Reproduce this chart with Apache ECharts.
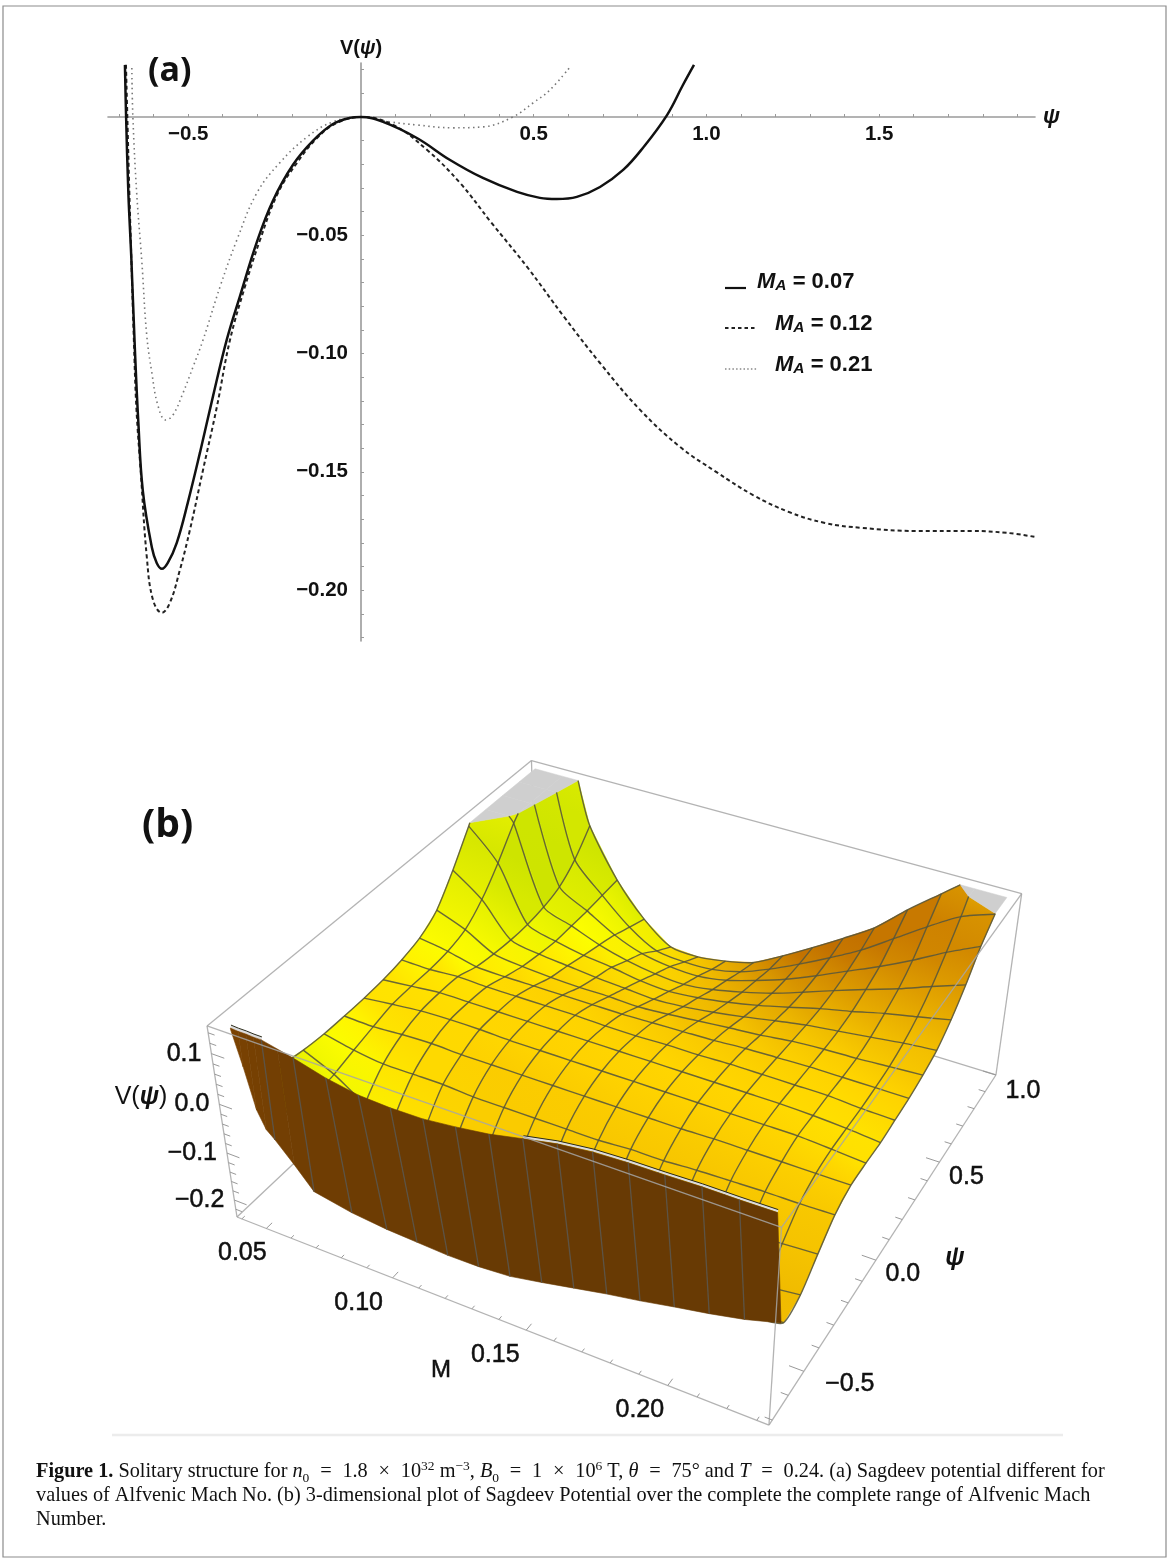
<!DOCTYPE html>
<html>
<head>
<meta charset="utf-8">
<style>html,body{margin:0;padding:0;background:#fff}#c{width:1171px;height:1561px}</style>
<script src="https://cdn.jsdelivr.net/npm/echarts@6/dist/echarts.min.js"></script>
</head>
<body>
<div id="c"></div>
<script>
// ---------- panel (a): curve readings [psi, V] ----------
const curve007 = [[-.683,.022],[-.6796,0],[-.6731,-.032],[-.6644,-.060],[-.6545,-.097],[-.6442,-.129],[-.6312,-.158],[-.605,-.182],[-.591,-.1885],[-.576,-.191],[-.559,-.1885],[-.533,-.180],[-.501,-.163],[-.466,-.142],[-.428,-.118],[-.388,-.094],[-.350,-.0757],[-.301,-.0528],[-.255,-.0355],[-.197,-.0203],[-.139,-.0101],[-.081,-.003],[-.032,-.0004],[0,0],[.064,-.0021],[.162,-.0089],[.258,-.0182],[.353,-.0258],[.452,-.0317],[.518,-.0342],[.567,-.0347],[.625,-.0338],[.692,-.0296],[.759,-.0224],[.816,-.0131],[.886,.0008],[.932,.0135],[.964,.022]];
const curve012 = [[-.680,.022],[-.676,0],[-.6702,-.032],[-.6644,-.060],[-.6572,-.094],[-.65,-.1226],[-.637,-.1505],[-.6197,-.186],[-.602,-.204],[-.576,-.2096],[-.553,-.2054],[-.524,-.1915],[-.495,-.1746],[-.457,-.1492],[-.417,-.1226],[-.379,-.0943],[-.336,-.0719],[-.292,-.052],[-.240,-.0321],[-.185,-.0194],[-.127,-.0089],[-.069,-.0025],[0,0],[.093,-.0034],[.191,-.0139],[.287,-.0279],[.376,-.0444],[.481,-.0634],[.588,-.0845],[.692,-.104],[.808,-.1238],[.924,-.1395],[1.028,-.150],[1.135,-.1598],[1.239,-.167],[1.343,-.1716],[1.450,-.1737],[1.607,-.175],[1.766,-.175],[1.870,-.1758],[1.951,-.1775]];
const curve021 = [[-.663,.0207],[-.660,0],[-.649,-.0321],[-.634,-.0613],[-.620,-.0921],[-.605,-.1082],[-.588,-.1217],[-.565,-.1281],[-.544,-.126],[-.515,-.1167],[-.486,-.1057],[-.457,-.0943],[-.408,-.0719],[-.359,-.052],[-.301,-.0321],[-.235,-.0194],[-.156,-.0085],[-.081,-.0021],[0,0],[.084,-.0021],[.162,-.0034],[.266,-.0046],[.353,-.0042],[.440,0],[.498,.0059],[.547,.0114],[.605,.0211]];
const xTickValues = [-.7,-.6,-.5,-.4,-.3,-.2,-.1,.1,.2,.3,.4,.5,.6,.7,.8,.9,1,1.1,1.2,1.3,1.4,1.5,1.6,1.7,1.8,1.9];
const xLabelValues = [-.5,.5,1,1.5];
const yTickValues = [.02,.01,-.01,-.02,-.03,-.04,-.05,-.06,-.07,-.08,-.09,-.1,-.11,-.12,-.13,-.14,-.15,-.16,-.17,-.18,-.19,-.2,-.21,-.22];
const yLabelValues = [-.05,-.1,-.15,-.2];
const legendLabels = ['0.07','0.12','0.21'];

// ---------- panel (b): surface readings V(M, psi) ----------
const meshM = [.0419,.0537,.0654,.0772,.089,.1007,.1125,.1242,.136,.1478,.1595,.1713,.183,.1948,.2066,.2183,.2301];
const meshPsi = [-.6856,-.5824,-.4792,-.376,-.2728,-.1696,-.0664,.0368,.14,.2432,.3464,.4496,.5528,.656,.7592,.8624,.9656];
const V_M00 = [.14,.036,-.003,-.013,-.017,-.017,-.016,-.013,-.006,.006,.032,.084,.145,.212,.27,.348,.426];
const V_M01 = [-.02,-.061,-.05,-.042,-.03,-.019,-.009,-.007,-.007,-.003,.009,.04,.085,.138,.18,.23,.28];
const V_M02 = [-.10,-.159,-.14,-.081,-.038,-.015,-.003,-.001,-.003,-.017,-.024,-.028,-.028,-.023,-.011,.017,.06];
const V_M03 = [-.13,-.179,-.151,-.085,-.038,-.013,-.001,-.001,-.005,-.019,-.032,-.04,-.046,-.046,-.046,-.044,-.042];
const V_M04 = [-.15,-.182,-.155,-.089,-.038,-.015,-.001,-.001,-.005,-.019,-.036,-.046,-.058,-.069,-.081,-.097,-.112];
const V_M05 = [-.153,-.186,-.159,-.093,-.042,-.015,-.003,-.001,-.005,-.019,-.038,-.052,-.065,-.085,-.104,-.132,-.157];
const V_M06 = [-.156,-.186,-.159,-.093,-.042,-.015,-.003,-.001,-.005,-.019,-.038,-.056,-.075,-.095,-.114,-.138,-.161];
const V_M07 = [-.156,-.182,-.159,-.093,-.042,-.015,-.003,-.001,-.007,-.019,-.04,-.06,-.079,-.099,-.116,-.136,-.152];
const V_M08 = [-.152,-.179,-.155,-.093,-.042,-.015,-.003,-.001,-.007,-.017,-.036,-.056,-.073,-.091,-.106,-.122,-.136];
const V_M09 = [-.142,-.171,-.151,-.089,-.042,-.015,-.003,-.001,-.005,-.015,-.03,-.048,-.063,-.077,-.087,-.097,-.102];
const V_M10 = [-.128,-.159,-.143,-.085,-.038,-.015,-.003,-.001,-.005,-.013,-.024,-.038,-.05,-.06,-.065,-.067,-.065];
const V_M11 = [-.115,-.151,-.136,-.081,-.038,-.015,-.003,-.001,-.003,-.009,-.019,-.026,-.034,-.038,-.038,-.034,-.026];
const V_M12 = [-.103,-.14,-.128,-.077,-.034,-.013,-.003,-.001,-.003,-.007,-.011,-.015,-.017,-.015,-.009,.001,.015];
const V_M13 = [-.09,-.128,-.12,-.073,-.032,-.013,-.003,-.001,-.003,-.005,-.007,-.007,-.003,.007,.02,.044,.071];
const V_M14 = [-.078,-.12,-.112,-.069,-.03,-.013,-.003,-.003,-.003,-.005,-.005,.001,.013,.028,.052,.087,.122];
const V_M15 = [-.05,-.108,-.104,-.065,-.03,-.013,-.007,-.007,-.007,-.005,-.001,.009,.026,.052,.087,.126,.173];
const V_M16 = [-.05,-.103,-.096,-.061,-.028,-.013,-.012,-.013,-.009,-.005,.003,.015,.04,.075,.118,.149,.231];
const surfaceV = [V_M00,V_M01,V_M02,V_M03,V_M04,V_M05,V_M06,V_M07,V_M08,V_M09,V_M10,V_M11,V_M12,V_M13,V_M14,V_M15,V_M16];
const wallM = [.0419,.0448,.0478,.0507,.0537,.0596,.0654,.0772,.089,.1007,.1125,.1242,.136,.1478,.1595,.1713,.183,.1948,.2066,.2183,.2301];
const wallTopV = [.137,.136,.136,.135,.135,.128,.121,.104,.093,.090,.091,.098,.107,.121,.134,.142,.145,.146,.148,.148,.149];
const wallBottomV = [.134,.067,-.0135,-.048,-.063,-.107,-.156,-.19,-.21,-.213,-.216,-.215,-.21,-.197,-.183,-.169,-.157,-.143,-.13,-.115,-.095];
const wallBottomPsi = [-.668,-.668,-.668,-.668,-.668,-.66,-.65,-.62,-.6,-.6,-.6,-.6,-.6,-.6,-.6,-.6,-.6,-.6,-.6,-.6,-.6];
const mTickLabels = [.05,.10,.15,.20];
const psiTickLabels = [-.5,0,.5,1];
const vTickLabels = [.1,0,-.1,-.2];

// ---------- 3D view of panel (b) ----------
const boxM = [.038,.234], boxPsi = [-.72,1.0], boxV = [-.237,.153];
const clipV = .150, wallPsi = -.668;
const cam = {a:-.1062,b:.2116,c:-.0717,A:[450.3,56.7],B:[413.6,-85.4],C:[-44.8,-264.6],D:[237,1217]};
function project(m,p,v){
  const u=(m-boxM[0])/(boxM[1]-boxM[0]), t=(p-boxPsi[0])/(boxPsi[1]-boxPsi[0]), w=(v-boxV[0])/(boxV[1]-boxV[0]);
  const d=1+cam.a*u+cam.b*t+cam.c*w;
  return [0,1].map(k=>(cam.A[k]*u+cam.B[k]*t+cam.C[k]*w+cam.D[k])/d);
}
const N = meshM.length-1;
const mix=(x,y,t)=>[0,1,2].map(k=>x[k]+(y[k]-x[k])*t);
const css=c=>'rgb('+c.map(Math.round).join(',')+')';
const GOLD=[255,213,0],YEL=[255,255,0],GRN=[176,216,0],ORG=[188,104,0],DK=[236,172,0];
function shade(i,j){
  const cl=x=>Math.min(x,clipV), il=Math.max(i-1,0),ir=Math.min(i+1,N),jl=Math.max(j-1,0),jr=Math.min(j+1,N);
  const u=i/N;
  let su=(cl(surfaceV[ir][j])-cl(surfaceV[il][j]))/((ir-il)*.06*.39);
  const sv=(cl(surfaceV[i][jr])-cl(surfaceV[i][jl]))/((jr-jl)*.06*.39);
  su-=.6*Math.max(0,1-u/.25);
  let c;
  if(su>=0) c=mix(GOLD,ORG,Math.min(1,su/1.7));
  else { const t=Math.min(1,-su/6); c=t<.12?mix(GOLD,YEL,t/.12):mix(YEL,GRN,Math.pow((t-.12)/.88,1.1)); }
  const k=Math.min(.25,Math.abs(sv)/4)*(u>.25?1:.2);
  return mix(c,DK,k);
}
function clipPoly(pts){ // keep below clipV; returns [below, above]
  const lo=[],hi=[];
  pts.forEach((q,n)=>{
    const r=pts[(n+1)%pts.length];
    if(q[2]<=clipV) lo.push(q); else hi.push([q[0],q[1],clipV]);
    if((q[2]<=clipV)!==(r[2]<=clipV)){
      const s=(clipV-q[2])/(r[2]-q[2]), x=[q[0]+(r[0]-q[0])*s,q[1]+(r[1]-q[1])*s,clipV];
      lo.push(x); hi.push(x);
    }
  });
  return [lo,hi];
}
const surfaceCells=[];
for(let j=N-1;j>=0;j--) for(let i=0;i<N;i++) if(j>0||i>1) surfaceCells.push([i,j]);
function renderCell(params,api){
  const i=api.value(0), j=api.value(1);
  const P=(q)=>api.coord(project(q[0],q[1],q[2]));
  const pts=[[meshM[i],meshPsi[j],surfaceV[i][j]],[meshM[i+1],meshPsi[j],surfaceV[i+1][j]],[meshM[i+1],meshPsi[j+1],surfaceV[i+1][j+1]],[meshM[i],meshPsi[j+1],surfaceV[i][j+1]]];
  const [lo,hi]=clipPoly(pts), children=[];
  if(lo.length>2){
    const a=P(pts[0]),b=P(pts[1]),c=P(pts[2]),d=P(pts[3]);
    const c0=mix(shade(i,j),shade(i+1,j),.5), c1=mix(shade(i,j+1),shade(i+1,j+1),.5);
    const x0=(a[0]+b[0])/2,y0=(a[1]+b[1])/2,x1=(c[0]+d[0])/2,y1=(c[1]+d[1])/2;
    const fill={type:'linear',global:true,x:x0,y:y0,x2:x1,y2:y1,colorStops:[{offset:0,color:css(c0)},{offset:1,color:css(c1)}]};
    children.push({type:'polygon',shape:{points:lo.map(P)},style:{fill,stroke:css(mix(c0,c1,.5)),lineWidth:.6}});
  }
  if(hi.length>2) children.push({type:'polygon',shape:{points:hi.map(P)},style:{fill:'#cfcfcf',stroke:'#cfcfcf',lineWidth:.5}});
  return {type:'group',children};
}
const meshLines=[];
for(let k=0;k<=N;k++){ meshLines.push([0,k]); if(k>0) meshLines.push([1,k]); }
function renderMesh(params,api){
  const kind=api.value(0), k=api.value(1), runs=[]; let run=[];
  const node=n=>kind===0?[meshM[k],meshPsi[n],surfaceV[k][n]]:[meshM[n],meshPsi[k],surfaceV[n][k]];
  const first=(kind===0&&k<=1)?1:0;
  for(let n=first;n<=N;n++){
    const q=node(n);
    if(q[2]<=clipV) run.push(q);
    if(n<N){
      const r=node(n+1);
      if((q[2]<=clipV)!==(r[2]<=clipV)){
        const s=(clipV-q[2])/(r[2]-q[2]);
        run.push([q[0]+(r[0]-q[0])*s,q[1]+(r[1]-q[1])*s,clipV]);
        if(q[2]<=clipV){runs.push(run);run=[];}
      }
    }
  }
  if(run.length) runs.push(run);
  return {type:'group',children:runs.filter(r=>r.length>1).map(r=>({type:'polyline',
    shape:{points:r.map(q=>api.coord(project(q[0],q[1],q[2]))),smooth:.25},
    style:{fill:null,stroke:'#56553a',lineWidth:1.4,opacity:.88}}))};
}
const wallCells=wallM.slice(0,wallM.length-1).map((m,i)=>[i,0]);
function renderWall(params,api){
  const i=api.value(0);
  const T=n=>api.coord(project(wallM[n],wallPsi,wallTopV[n]));
  const B=n=>api.coord(project(wallM[n],wallBottomPsi[n],wallBottomV[n]));
  const fill=css(mix([122,66,2],[104,58,4],Math.min(1,i/10)));
  const kids=[{type:'polygon',shape:{points:[T(i),T(i+1),B(i+1),B(i)]},style:{fill,stroke:fill,lineWidth:.6}}];
  if(i>0&&meshM.includes(wallM[i])){const a=T(i),b=B(i);kids.push({type:'line',shape:{x1:a[0],y1:a[1],x2:b[0],y2:b[1]},style:{stroke:'#5c5346',lineWidth:1.3}});}
  return {type:'group',children:kids};
}
const capStripIdx=[[0,4],[13,20]];
function renderCapStrip(params,api){
  const [a,b]=capStripIdx[api.value(0)], grey=[], dark=[];
  for(let i=a;i<=b;i++){
    const q=api.coord(project(wallM[i],wallPsi,wallTopV[i])); grey.push([q[0]+.4,q[1]-1.6]); dark.push([q[0]+.6,q[1]-3]);
  }
  return {type:'group',children:[
    {type:'polyline',shape:{points:grey},style:{fill:null,stroke:'#dcdcdc',lineWidth:2.6}},
    {type:'polyline',shape:{points:dark},style:{fill:null,stroke:'#2a2a1a',lineWidth:1}}]};
}
// box edges as index triples into the axis ranges
const backEdges=[[[0,0,0],[0,1,0]],[[0,1,0],[1,1,0]],[[0,1,1],[1,1,1]],[[0,0,1],[0,1,1]],[[0,1,0],[0,1,1]]];
const frontEdges=[[[0,0,0],[1,0,0]],[[1,0,0],[1,1,0]],[[0,0,0],[0,0,1]],[[1,0,0],[1,0,1]],[[1,1,0],[1,1,1]],[[0,0,1],[1,0,1]],[[1,0,1],[1,1,1]]];
const edgeSeries=edges=>(params,api)=>{
  const e=edges[api.value(0)];
  const P=q=>api.coord(project(boxM[q[0]],boxPsi[q[1]],boxV[q[2]]));
  const a=P(e[0]),b=P(e[1]);
  return {type:'line',shape:{x1:a[0],y1:a[1],x2:b[0],y2:b[1]},style:{stroke:'#a6a6a6',lineWidth:1.3,opacity:.85}};
};
const range=(lo,hi,st)=>{const r=[];for(let x=Math.round(lo/st);x*st<=hi+1e-9;x++)r.push(+(x*st).toFixed(4));return r;};
const mTicks=range(.04,.23,.01), psiTicks=range(-.7,1,.1), vTicks=range(-.22,.14,.02);
const major=(x,st)=>Math.abs(x/st-Math.round(x/st))<1e-6;
const tickData=[...mTicks.map(x=>[0,x]),...psiTicks.map(x=>[1,x]),...vTicks.map(x=>[2,x])];
function renderTick(params,api){
  const kind=api.value(0),x=api.value(1);let s,e;
  if(kind===0){const L=major(x,.05)?.028:.014;s=[x,boxPsi[0],boxV[0]];e=[x,boxPsi[0]+L,boxV[0]];}
  else if(kind===1){const L=major(x,.5)?.005:.0025;s=[boxM[1],x,boxV[0]];e=[boxM[1]-L,x,boxV[0]];}
  else{const L=major(x,.1)?.005:.0025;s=[boxM[0],boxPsi[0],x];e=[boxM[0]+L,boxPsi[0],x];}
  const a=api.coord(project(...s)),b=api.coord(project(...e));
  return {type:'line',shape:{x1:a[0],y1:a[1],x2:b[0],y2:b[1]},style:{stroke:'#999',lineWidth:1}};
}
const BFONT='"Liberation Sans",Arial,sans-serif';
const labelData=[...mTickLabels.map((x,n)=>[0,x,n]),...psiTickLabels.map((x,n)=>[1,x,n]),...vTickLabels.map((x,n)=>[2,x,n])];
const fmt=(x,d)=>(x<0?'\u2212':'')+Math.abs(x).toFixed(d);
const mLabelDx=[-24,-34,-31,-28];
function renderLabel(params,api){
  const kind=api.value(0),x=api.value(1),n=api.value(2);let p,txt,dx,dy,align='center';
  if(kind===0){p=project(x,boxPsi[0],boxV[0]);txt=fmt(x,2);dx=mLabelDx[n];dy=25;}
  else if(kind===1){p=project(boxM[1],x,boxV[0]);txt=fmt(x,1);dx=x<0?46:27;dy=13+n;}
  else{p=project(boxM[0],boxPsi[0],x);txt=fmt(x,1);dx=-10;dy=0;align='right';}
  const q=api.coord(p);
  return {type:'text',x:q[0]+dx,y:q[1]+dy,style:{text:txt,fontFamily:BFONT,fontSize:25,fill:'#111',stroke:'#111',lineWidth:.5,align,verticalAlign:'middle'}};
}
const custom=(renderItem,data,z)=>({type:'custom',coordinateSystem:'cartesian2d',xAxisIndex:1,yAxisIndex:1,clip:false,silent:true,renderItem,data,z,animation:false});

// ---------- caption ----------
const SERIF='"Liberation Serif","DejaVu Serif",serif';
const capSize=20.3;
const capRich={
  n:{fontFamily:SERIF,fontSize:capSize,fill:'#111'},
  b:{fontFamily:SERIF,fontSize:capSize,fontWeight:'bold',fill:'#111'},
  i:{fontFamily:SERIF,fontSize:capSize,fontStyle:'italic',fill:'#111'},
  e:{fontFamily:SERIF,fontSize:capSize,fill:'#111',padding:[0,10.8,0,10.8]},
  u:{fontFamily:SERIF,fontSize:13.5,fill:'#111',verticalAlign:'bottom',padding:[12,0,0,0]},
  s:{fontFamily:SERIF,fontSize:13.5,fill:'#111',verticalAlign:'top',padding:[0,0,12,0]}
};
const captionLines=[
 '{b|Figure 1.}{n| Solitary structure for }{i|n}{u|0}{e|=}{n|1.8}{e|×}{n|10}{s|32}{n| m}{s|−3}{n|, }{i|B}{u|0}{e|=}{n|1}{e|×}{n|10}{s|6}{n| T, }{i|θ}{e|=}{n|75° and }{i|T}{e|=}{n|0.24. (a) Sagdeev potential different for}',
 '{n|values of Alfvenic Mach No. (b) 3-dimensional plot of Sagdeev Potential over the complete the complete range of Alfvenic Mach}',
 '{n|Number.}'];
const captionY=[1472,1496,1520];

const legendStyles=[{stroke:'#111',lineWidth:2.2,x2:746,lx:757},{stroke:'#222',lineWidth:1.8,lineDash:[3.5,3],x2:757,lx:775},{stroke:'#888',lineWidth:1.5,lineDash:[1.5,2.2],x2:757,lx:775}];
const legendY=[288,328,369];
const legendTextY=[282,324,365];
const legRich={
  m:{fontFamily:BFONT,fontSize:22,fontWeight:'bold',fontStyle:'italic',fill:'#111'},
  a:{fontFamily:BFONT,fontSize:15.5,fontWeight:'bold',fontStyle:'italic',fill:'#111',verticalAlign:'bottom',padding:[8,0,0,0]},
  t:{fontFamily:BFONT,fontSize:22,fontWeight:'bold',fill:'#111'}
};
const graphics=[
 {type:'rect',shape:{x:3,y:6,width:1163,height:1551},style:{fill:null,stroke:'#8c8c8c',lineWidth:1.2},silent:true},
 {type:'line',shape:{x1:112,y1:1435,x2:1063,y2:1435},style:{stroke:'#ececec',lineWidth:2.5},silent:true},
 {type:'text',x:148,y:54,style:{text:'(a)',font:'bold 34px "Open Sans",sans-serif',fill:'#111'},silent:true},
 {type:'text',x:142,y:806,style:{text:'(b)',font:'bold 39px "Open Sans",sans-serif',fill:'#111'},silent:true},
];
legendLabels.forEach((l,k)=>{
  const s=legendStyles[k];
  graphics.push({type:'line',shape:{x1:725,y1:legendY[k],x2:s.x2,y2:legendY[k]},style:{stroke:s.stroke,lineWidth:s.lineWidth,lineDash:s.lineDash||null},silent:true});
  graphics.push({type:'text',x:s.lx,y:legendTextY[k],style:{text:'{m|M}{a|A}{t| = '+l+'}',rich:legRich,verticalAlign:'middle'},silent:true});
});
captionLines.forEach((t,k)=>graphics.push({type:'text',x:36,y:captionY[k],style:{text:t,rich:capRich,verticalAlign:'middle'},silent:true}));

// ---------- chart ----------
const axisText={color:'#111',fontFamily:BFONT,fontWeight:'bold',fontSize:20.5};
const chart=echarts.init(document.getElementById('c'),null,{renderer:'canvas'});
chart.setOption({
  animation:false,backgroundColor:'#fff',
  grid:[{left:108,top:63,width:927,height:578,containLabel:false},{left:0,top:0,width:1171,height:1561}],
  xAxis:[
    {type:'value',gridIndex:0,min:-.732,max:1.951,position:'bottom',offset:-524,
     name:'{i|ψ}',nameLocation:'end',nameGap:8,nameTextStyle:{rich:{i:{fontFamily:BFONT,fontSize:22,fontWeight:'bold',fontStyle:'italic',color:'#111'}}},
     axisLine:{onZero:false,lineStyle:{color:'#9a9a9a',width:1.6}},
     axisTick:{inside:true,length:3,customValues:xTickValues,lineStyle:{color:'#9a9a9a'}},
     axisLabel:{...axisText,margin:7,customValues:xLabelValues,formatter:v=>fmt(v,1)},splitLine:{show:false}},
    {type:'value',gridIndex:1,min:0,max:1171,show:false,splitLine:{show:false}}],
  yAxis:[
    {type:'value',gridIndex:0,min:-.2215,max:.0228,position:'left',offset:-253,
     name:'{n|V(}{i|ψ}{n|)}',nameLocation:'end',nameGap:5,nameTextStyle:{rich:{n:{fontFamily:BFONT,fontSize:20,fontWeight:'bold',color:'#111'},i:{fontFamily:BFONT,fontSize:20,fontWeight:'bold',fontStyle:'italic',color:'#111'}}},
     axisLine:{onZero:false,lineStyle:{color:'#9a9a9a',width:1.6}},
     axisTick:{inside:true,length:3,customValues:yTickValues,lineStyle:{color:'#9a9a9a'}},
     axisLabel:{...axisText,margin:13,customValues:yLabelValues,formatter:v=>fmt(v,2)},splitLine:{show:false}},
    {type:'value',gridIndex:1,min:0,max:1561,inverse:true,show:false,splitLine:{show:false}}],
  graphic:graphics,
  series:[
    {name:'M_A = 0.21',type:'line',xAxisIndex:0,yAxisIndex:0,data:curve021,showSymbol:false,smooth:.4,z:3,lineStyle:{color:'#777',width:1.6,type:[1.5,3.5]}},
    {name:'M_A = 0.12',type:'line',xAxisIndex:0,yAxisIndex:0,data:curve012,showSymbol:false,smooth:.4,z:3,lineStyle:{color:'#222',width:2,type:[4,3]}},
    {name:'M_A = 0.07',type:'line',xAxisIndex:0,yAxisIndex:0,data:curve007,showSymbol:false,smooth:.4,z:4,lineStyle:{color:'#111',width:2.5}},
    custom(edgeSeries(backEdges),backEdges.map((e,k)=>[k,0]),10),
    custom(renderCell,surfaceCells,11),
    custom(renderMesh,meshLines,12),
    custom(renderCapStrip,capStripIdx.map((e,k)=>[k,0]),13),
    custom(renderWall,wallCells,14),
    custom(edgeSeries(frontEdges),frontEdges.map((e,k)=>[k,0]),15),
    custom(renderTick,tickData,16),
    custom(renderLabel,labelData,17),
    custom((p,api)=>{const a=api.coord([441,1370]);return{type:'text',x:a[0],y:a[1],style:{text:'M',fontFamily:BFONT,fontSize:24,fill:'#111',stroke:'#111',lineWidth:.5,align:'center',verticalAlign:'middle'}};},[[0,0]],18),
    custom((p,api)=>{const a=api.coord([955,1258]);return{type:'text',x:a[0],y:a[1],style:{text:'ψ',fontFamily:BFONT,fontSize:25,fontStyle:'italic',fontWeight:'bold',fill:'#111',align:'center',verticalAlign:'middle'}};},[[0,0]],18),
    custom((p,api)=>{const a=api.coord([141,1097]);return{type:'text',x:a[0],y:a[1],style:{text:'{n|V(}{i|ψ}{n|)}',rich:{n:{fontFamily:BFONT,fontSize:25,fill:'#111'},i:{fontFamily:BFONT,fontSize:25,fontStyle:'italic',fontWeight:'bold',fill:'#111'}},align:'center',verticalAlign:'middle'}};},[[0,0]],18)
  ]
});
</script>
</body>
</html>
